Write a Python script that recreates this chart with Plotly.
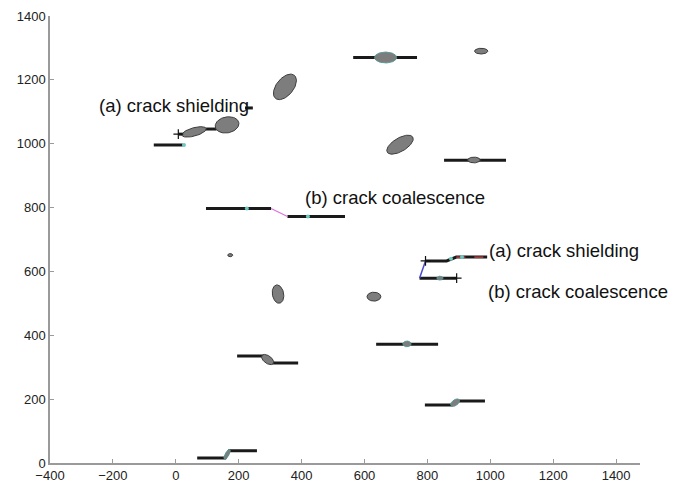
import numpy as np
import plotly.graph_objects as go

# ---- data ----
x_ticks = [-400, -200, 0, 200, 400, 600, 800, 1000, 1200, 1400]
y_ticks = [0, 200, 400, 600, 800, 1000, 1200, 1400]

# ellipses (inclusions): centre x, centre y, semi-axis a, semi-axis b, angle (deg)
ell_cx = [667, 971, 347, 713, 948, 163, 58, 173, 325, 630, 735, 292, 888, 163, 840]
ell_cy = [1270, 1290, 1178, 997, 949, 1059, 1037, 651, 529, 521, 373, 324, 189, 27, 579]
ell_a = [35, 21, 47, 47, 20, 38, 40, 8, 29, 22, 13, 22, 16, 17, 10]
ell_b = [17, 9, 27, 21, 9, 25, 13, 5, 18, 14, 9, 12, 9, 6, 6]
ell_ang = [0, 0, 50, 30, 0, 10, 15, 0, 100, 0, 0, -35, 35, 60, 0]
ell_teal = [True, False, False, False, False, False, False, False, False, False, True, False, True, True, True]

# black crack paths (polylines)
crack_top_x = [564, 767];            crack_top_y = [1270, 1270]
crack_r1_x = [853, 1050];            crack_r1_y = [948, 948]
crack_dash_x = [220, 245];           crack_dash_y = [1112, 1112]
crack_link_x = [90, 130];            crack_link_y = [1046, 1046]
crack_tip_x = [8, 33];               crack_tip_y = [1030, 1030]
crack_s_x = [-70, 22];               crack_s_y = [996, 996]
crack_b1_x = [96, 303];              crack_b1_y = [797, 797]
crack_b2_x = [355, 538];             crack_b2_y = [772, 772]
crack_m1_x = [195, 277, 309, 389];   crack_m1_y = [335, 335, 313, 313]
crack_m2_x = [637, 834];             crack_m2_y = [372, 372]
crack_br_x = [792, 878, 894, 983];   crack_br_y = [182, 182, 194, 194]
crack_bt_x = [68, 157, 170, 258];    crack_bt_y = [16, 16, 38, 38]
crack_ra_x = [794, 861, 892, 990];   crack_ra_y = [633, 633, 645, 645]
crack_rb_x = [775, 893];             crack_rb_y = [579, 579]

# coloured links / overlays
link_pink_x = [303, 355];            link_pink_y = [797, 772]
link_blue_x = [794, 775];            link_blue_y = [633, 579]
red_dash_x = [892, 990];             red_dash_y = [645, 645]

# crack-tip markers
tip_black_x = [8, 794, 893];         tip_black_y = [1030, 633, 579]
tip_cyan_x = [26, 226, 420, 875, 910];  tip_cyan_y = [996, 797, 772, 640, 645]

# labels
label_text = ["(a) crack shielding", "(b) crack coalescence",
              "(a) crack shielding", "(b) crack coalescence"]
label_x = [-251, 405, 990, 987]
label_y = [1121, 833, 667, 536]

# ---- figure ----
fig = go.Figure()

crack_sets = [
    (crack_top_x, crack_top_y), (crack_r1_x, crack_r1_y), (crack_dash_x, crack_dash_y),
    (crack_link_x, crack_link_y), (crack_tip_x, crack_tip_y), (crack_s_x, crack_s_y),
    (crack_b1_x, crack_b1_y), (crack_b2_x, crack_b2_y), (crack_m1_x, crack_m1_y),
    (crack_m2_x, crack_m2_y), (crack_br_x, crack_br_y), (crack_bt_x, crack_bt_y),
    (crack_ra_x, crack_ra_y), (crack_rb_x, crack_rb_y),
]
for cx, cy in crack_sets:
    fig.add_trace(go.Scatter(x=cx, y=cy, mode="lines",
                             line=dict(color="#1a1a1a", width=3),
                             showlegend=False, hoverinfo="skip"))

fig.add_trace(go.Scatter(x=link_pink_x, y=link_pink_y, mode="lines",
                         line=dict(color="#e070e0", width=1.2), showlegend=False))
fig.add_trace(go.Scatter(x=link_blue_x, y=link_blue_y, mode="lines",
                         line=dict(color="#4a4ad0", width=1.5), showlegend=False))
fig.add_trace(go.Scatter(x=red_dash_x, y=red_dash_y, mode="lines",
                         line=dict(color="#c84848", width=1.2, dash="dash"), showlegend=False))

t = np.linspace(0, 2 * np.pi, 72)
for cx, cy, a, b, ang, teal in zip(ell_cx, ell_cy, ell_a, ell_b, ell_ang, ell_teal):
    th = np.deg2rad(ang)
    ex = cx + a * np.cos(t) * np.cos(th) - b * np.sin(t) * np.sin(th)
    ey = cy + a * np.cos(t) * np.sin(th) + b * np.sin(t) * np.cos(th)
    fig.add_trace(go.Scatter(x=ex, y=ey, mode="lines", fill="toself",
                             fillcolor="#7d7d7d",
                             line=dict(color="#5a9a96" if teal else "#3c3c3c", width=1),
                             showlegend=False, hoverinfo="skip"))

fig.add_trace(go.Scatter(x=tip_black_x, y=tip_black_y, mode="markers",
                         marker=dict(symbol="cross-thin", size=7,
                                     line=dict(color="#111111", width=1.2)),
                         showlegend=False))
fig.add_trace(go.Scatter(x=tip_cyan_x, y=tip_cyan_y, mode="markers",
                         marker=dict(symbol="circle", size=4, color="#6cc8c0",
                                     line=dict(width=0)),
                         showlegend=False))

for txt, lx, ly in zip(label_text, label_x, label_y):
    fig.add_annotation(x=lx, y=ly, text=txt, showarrow=False,
                       xanchor="left", yanchor="middle",
                       font=dict(family="Liberation Sans, Arial, sans-serif", size=18.5, color="#111111"))

axis_common = dict(showgrid=False, zeroline=False, showline=True, automargin=False,
                   linecolor="#9a9a9a", linewidth=1.5, ticks="inside", ticklen=4,
                   tickcolor="#9a9a9a", tickwidth=1,
                   tickfont=dict(family="Liberation Sans, Arial, sans-serif", size=13, color="#222222"),
                   mirror=False)

# the page body adds an 8px offset, so margins are shifted to compensate
fig.update_layout(
    width=680, height=480, autosize=False,
    margin=dict(l=42, r=48, t=8, b=25),
    paper_bgcolor="white", plot_bgcolor="white",
    xaxis=dict(range=[-400, 1476], tickvals=x_ticks, **axis_common),
    yaxis=dict(range=[0, 1400], tickvals=y_ticks, **axis_common),
    showlegend=False,
)

fig.write_html("out.html")
